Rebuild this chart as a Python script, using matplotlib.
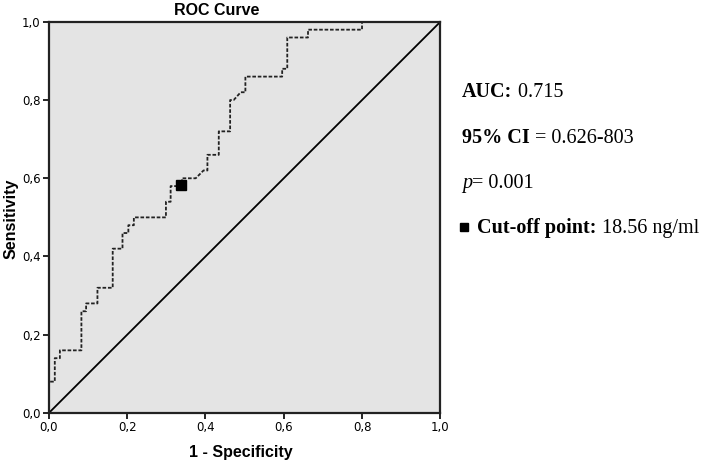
import matplotlib
matplotlib.use("Agg")
import matplotlib.pyplot as plt

# ROC curve vertices (1 - specificity, sensitivity)
fpr = [0.0, 0.0, 0.015, 0.015, 0.028, 0.028, 0.083, 0.083, 0.095, 0.095,
       0.124, 0.124, 0.163, 0.163, 0.188, 0.188, 0.203, 0.203, 0.217, 0.217,
       0.299, 0.299, 0.311, 0.311, 0.340, 0.340, 0.375, 0.395, 0.405, 0.405,
       0.434, 0.434, 0.463, 0.463, 0.472, 0.490, 0.502, 0.502, 0.596, 0.596,
       0.609, 0.609, 0.662, 0.662, 0.800, 0.800, 1.0]
tpr = [0.0, 0.08, 0.08, 0.14, 0.14, 0.16, 0.16, 0.26, 0.26, 0.28,
       0.28, 0.32, 0.32, 0.42, 0.42, 0.46, 0.46, 0.48, 0.48, 0.50,
       0.50, 0.54, 0.54, 0.58, 0.58, 0.60, 0.60, 0.62, 0.62, 0.66,
       0.66, 0.72, 0.72, 0.80, 0.80, 0.82, 0.82, 0.86, 0.86, 0.88,
       0.88, 0.96, 0.96, 0.98, 0.98, 1.0, 1.0]
cutoff_fpr = 0.337
cutoff_tpr = 0.583

ticks = [0.0, 0.2, 0.4, 0.6, 0.8, 1.0]
tick_labels = ["0,0", "0,2", "0,4", "0,6", "0,8", "1,0"]

fig = plt.figure(figsize=(7.09, 4.65), dpi=100)
ax = fig.add_axes([0.069, 0.112, 0.552, 0.841])
ax.set_facecolor("#e4e4e4")

ax.plot([0, 1], [0, 1], color="black", lw=1.3)
ax.plot(fpr, tpr, color="#222222", lw=1.3, dashes=(2.0, 1.0))
ax.plot([cutoff_fpr], [cutoff_tpr], marker="s", ms=6.5, color="black", ls="none")

ax.set_xlim(0, 1)
ax.set_ylim(0, 1)
ax.set_xticks(ticks)
ax.set_xticklabels(tick_labels)
ax.set_yticks(ticks)
ax.set_yticklabels(tick_labels)
ax.tick_params(direction="out", length=4, width=1.2, labelsize=8.5, pad=2)
for s in ax.spines.values():
    s.set_linewidth(1.6)
    s.set_color("#222222")

sans = "Liberation Sans"
fig.text(0.306, 0.978, "ROC Curve", ha="center", va="center",
         fontsize=11.5, fontweight="bold", family=sans)
fig.text(0.34, 0.026, "1 - Specificity", ha="center", va="center",
         fontsize=11.5, fontweight="bold", family=sans)
fig.text(0.016, 0.53, "Sensitivity", ha="center", va="center", rotation=90,
         fontsize=11.5, fontweight="bold", family=sans)

# annotation block on the right: first part bold (or italic), rest regular
serif = "Liberation Serif"
fs = 14.5
renderer = fig.canvas.get_renderer()


def two_part(x, y, first, rest, italic=False):
    t = fig.text(x, y, first, ha="left", va="baseline", fontsize=fs,
                 family=serif, fontweight="normal" if italic else "bold",
                 fontstyle="italic" if italic else "normal")
    bb = t.get_window_extent(renderer).transformed(fig.transFigure.inverted())
    fig.text(bb.x1, y, rest, ha="left", va="baseline", fontsize=fs,
             family=serif)


two_part(0.652, 0.792, "AUC:", " 0.715")
two_part(0.652, 0.692, "95% CI", " = 0.626-803")
two_part(0.652, 0.595, "p", "= 0.001", italic=True)

ax.plot([0.655], [0.512], marker="s", ms=5.5, color="black", ls="none",
        transform=fig.transFigure, clip_on=False)
two_part(0.673, 0.498, "Cut-off point:", " 18.56 ng/ml")

fig.savefig("out.png", dpi=100)
